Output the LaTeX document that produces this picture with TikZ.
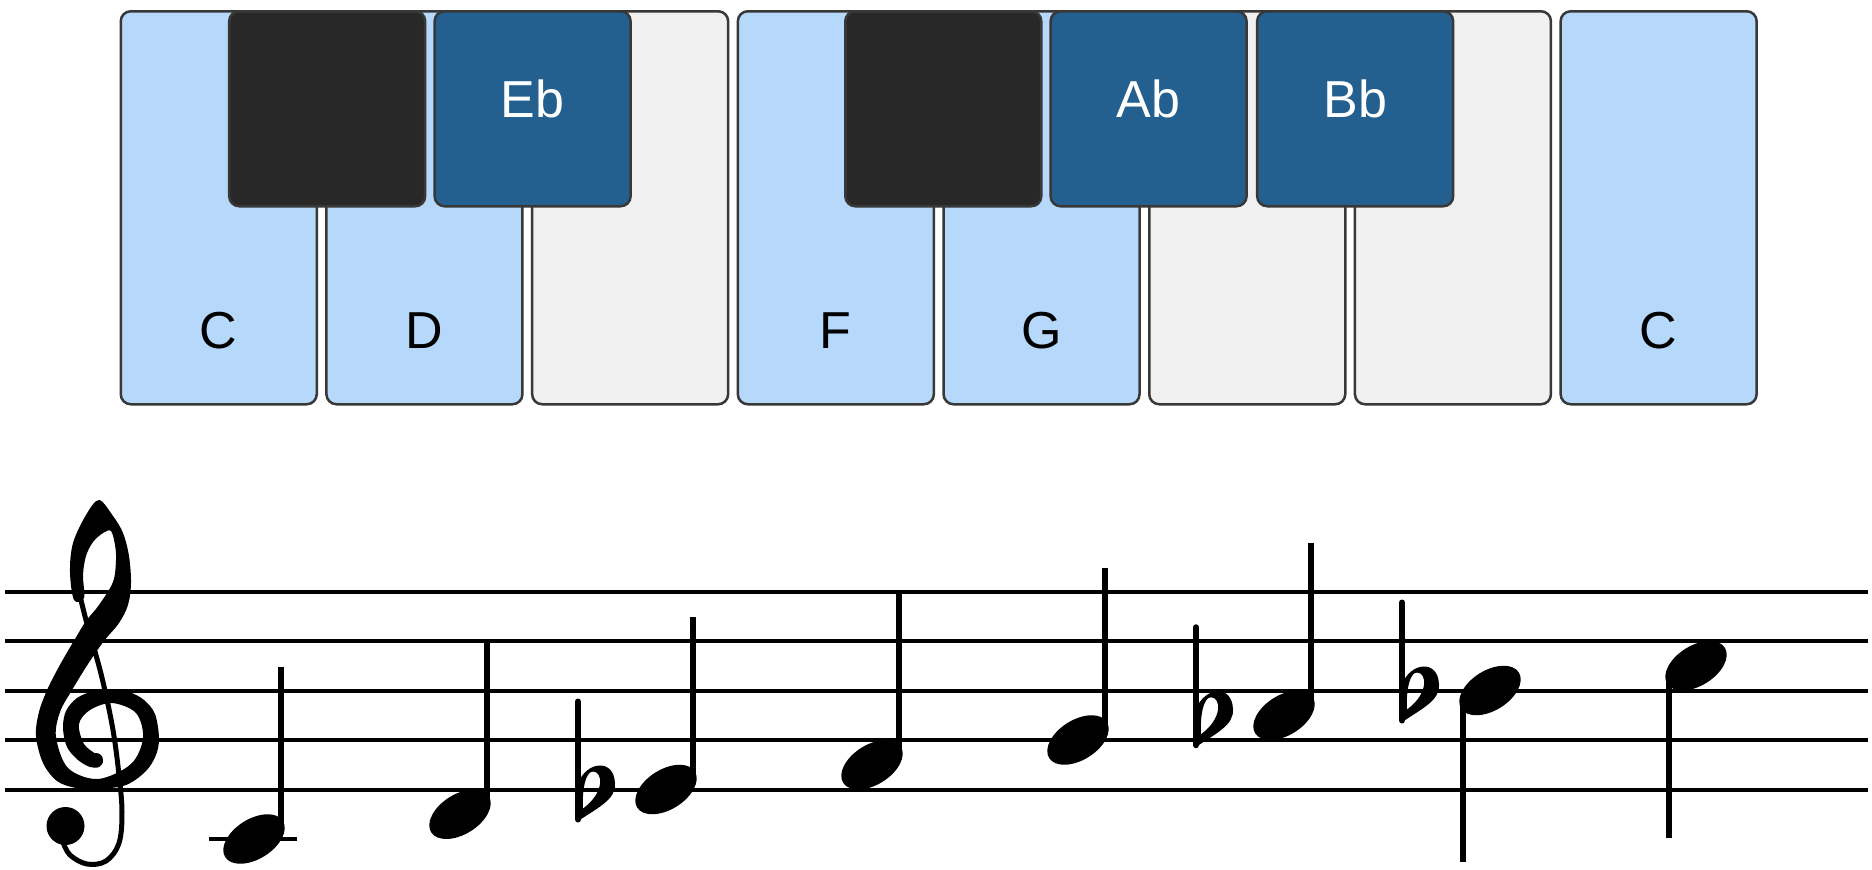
\documentclass[tikz,border=0pt]{standalone}
\usepackage{fontspec}
\setmainfont{Liberation Sans}
\definecolor{keyblue}{HTML}{B6D8FA}
\definecolor{keygray}{HTML}{F0F0F0}
\definecolor{keydark}{HTML}{282828}
\definecolor{keyhigh}{HTML}{23608F}
\definecolor{keyline}{HTML}{383838}
\begin{document}
\begin{tikzpicture}[x=1pt,y=-1pt,
	whitekey/.style={draw=keyline,line width=2.5pt,rounded corners=10pt,minimum width=196pt,minimum height=393pt,inner sep=0pt,anchor=north west},
	blackkey/.style={draw=keyline,line width=2.5pt,rounded corners=10pt,minimum width=196pt,minimum height=195pt,inner sep=0pt,anchor=north},
	keylabel/.style={anchor=base,font=\fontsize{52}{60}\selectfont},
	staffline/.style={line width=4pt},
	notestem/.style={line width=6pt}]
	\fill[white] (0,0) rectangle (1872,870);
	\useasboundingbox (0,0) rectangle (1872,870);
	%KEYBOARD
	\node[whitekey,fill=keyblue] (keyC) at (119.5,10) {};
	\node[whitekey,fill=keyblue] (keyD) at (325.2,10) {};
	\node[whitekey,fill=keygray] (keyE) at (530.9,10) {};
	\node[whitekey,fill=keyblue] (keyF) at (736.6,10) {};
	\node[whitekey,fill=keyblue] (keyG) at (942.3,10) {};
	\node[whitekey,fill=keygray] (keyA) at (1148,10) {};
	\node[whitekey,fill=keygray] (keyB) at (1353.7,10) {};
	\node[whitekey,fill=keyblue] (keyCc) at (1559.4,10) {};
	\node[blackkey,fill=keydark] (keyCs) at (327.2,10) {};
	\node[blackkey,fill=keyhigh] (keyEb) at (532.6,10) {};
	\node[blackkey,fill=keydark] (keyFs) at (943.3,10) {};
	\node[blackkey,fill=keyhigh] (keyAb) at (1148.6,10) {};
	\node[blackkey,fill=keyhigh] (keyBb) at (1355.2,10) {};
	\node[keylabel] (labC) at ([yshift=57pt]keyC.south) {C};
	\node[keylabel] (labD) at ([yshift=57pt]keyD.south) {D};
	\node[keylabel] (labF) at ([yshift=57pt]keyF.south) {F};
	\node[keylabel] (labG) at ([yshift=57pt]keyG.south) {G};
	\node[keylabel] (labCc) at ([yshift=57pt]keyCc.south) {C};
	\node[keylabel,text=white] (labEb) at ([yshift=90pt]keyEb.south) {Eb};
	\node[keylabel,text=white] (labAb) at ([yshift=90pt]keyAb.south) {Ab};
	\node[keylabel,text=white] (labBb) at ([yshift=90pt]keyBb.south) {Bb};
	%STAFF
	\draw[staffline] (5,591.5) -- (1868,591.5);
	\draw[staffline] (5,641) -- (1868,641);
	\draw[staffline] (5,690.5) -- (1868,690.5);
	\draw[staffline] (5,740) -- (1868,740);
	\draw[staffline] (5,789.5) -- (1868,789.5);
	%CLEF
	\fill plot[smooth cycle,tension=0.55] coordinates {(103,761) (97,755) (84,744) (79,724) (90,710) (112,703) (136,713) (143,738) (131,764) (98,779) (68,768) (56,737) (60,712) (72,690) (88,664) (104,641) (119,623) (128,605) (131,583) (129,556) (123,533) (113,516) (99,500) (86,515) (73,543) (70,572) (74,600) (84,598) (83,575) (86,556) (93,542) (103,533) (111,531) (115,545) (116,560) (113,582) (99,605) (86,621) (75,639) (61,663) (48,688) (39,712) (36,736) (43,763) (57,781) (76,788) (98,789) (126,785) (146,771) (156,755) (159,738) (155,714) (144,700) (129,692) (112,690) (94,691) (77,698) (66,711) (63,728) (67,747) (78,760) (90,767) (99,767)};
	\fill (96,760) circle (7);
	\draw[line width=5pt,line cap=round] plot[smooth,tension=0.6] coordinates {(80,596) (86,620) (94,648) (103,682) (113,730) (119,775) (122,812) (119,843) (106,861) (87,864) (70,855) (63,842)};
	\fill (65.5,826) circle (19);
	%NOTES
	\draw[staffline] (209,839) -- (297,839);
	\fill[rotate around={32:(254,839)}] (254,839) ellipse (34 and 20);
	\draw[notestem] (281,831) -- (281,667);
	\fill[rotate around={32:(460,814.25)}] (460,814.25) ellipse (34 and 20);
	\draw[notestem] (487,806) -- (487,642);
	\fill[rotate around={32:(666,789.5)}] (666,789.5) ellipse (34 and 20);
	\draw[notestem] (693,781) -- (693,617);
	\fill[rotate around={32:(872,764.75)}] (872,764.75) ellipse (34 and 20);
	\draw[notestem] (899,756) -- (899,592);
	\fill[rotate around={32:(1078,740)}] (1078,740) ellipse (34 and 20);
	\draw[notestem] (1105,732) -- (1105,568);
	\fill[rotate around={32:(1284,715.25)}] (1284,715.25) ellipse (34 and 20);
	\draw[notestem] (1311,707) -- (1311,543);
	\fill[rotate around={32:(1490,690.5)}] (1490,690.5) ellipse (34 and 20);
	\draw[notestem] (1463,699) -- (1463,862);
	\fill[rotate around={32:(1696,665.75)}] (1696,665.75) ellipse (34 and 20);
	\draw[notestem] (1669,674) -- (1669,838);
	%FLATS
	\foreach \fx/\ny in {578/789.5,1196/715.25,1402/690.5}{
		\draw[line width=6pt,line cap=round] (\fx,\ny-88) -- (\fx,\ny+30);
		\fill[even odd rule] (\fx,\ny-6) .. controls (\fx+8,\ny-28) and (\fx+36,\ny-32) .. (\fx+37,\ny-6) .. controls (\fx+38,\ny+10) and (\fx+20,\ny+18) .. (\fx+1,\ny+31) -- cycle
			(\fx+5,\ny+19) .. controls (\fx+4,\ny+2) and (\fx+7,\ny-18) .. (\fx+15,\ny-18) .. controls (\fx+25,\ny-18) and (\fx+27,\ny+3) .. (\fx+5,\ny+19) -- cycle;
	}
\end{tikzpicture}
\end{document}
